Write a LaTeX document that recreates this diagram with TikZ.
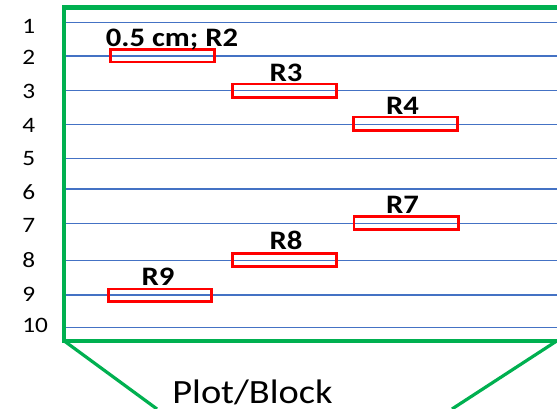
\documentclass[tikz,border=0pt]{standalone}
\usepackage{fontspec}
\setmainfont{Carlito}
\definecolor{fgreen}{RGB}{0,176,80}
\definecolor{lblue}{RGB}{68,114,196}
\definecolor{rred}{RGB}{255,0,0}
\tikzset{
  frame/.style={draw=fgreen, line width=3.4pt, line join=miter},
  slant/.style={draw=fgreen, line width=2.4pt},
  rowline/.style={draw=lblue, line width=1.1pt},
  redbox/.style={draw=rred, line width=2pt},
  numlab/.style={anchor=west, inner sep=0pt, font=\fontsize{16.5}{18}\selectfont},
  boxlab/.style={anchor=base, inner sep=0pt, font=\fontsize{20}{22}\selectfont\bfseries},
  titlelab/.style={anchor=base, inner sep=0pt, font=\fontsize{25.5}{28}\selectfont},
}
\newcommand{\wide}[1]{\scalebox{1.15}[1]{#1}}
\begin{document}
\begin{tikzpicture}[x=0.75pt, y=-0.75pt]
\useasboundingbox (0,0) rectangle (557,409);
% row lines
\foreach \yy [count=\i] in {22.3,56,90.7,124.3,158.7,189,223.3,260.7,295,327.3}{
  \draw[rowline] (66,\yy) -- (557,\yy);
}
% row numbers
\foreach \yy/\t in {26/1,57.8/2,91/3,125/4,159/5,192/6,225.7/7,260.5/8,294.5/9,325.7/10}{
  \node[numlab] (n\t) at (22,\yy) {\wide{\t}};
}
% frame
\draw[frame] (560,7.5) -- (64,7.5) -- (64,340.8) -- (560,340.8);
\coordinate (bl) at (64,340.8);
\coordinate (br) at (557,340.8);
\coordinate (tl) at (157,409);
\coordinate (tr) at (452,409);
\draw[slant] (bl) -- (tl);
\draw[slant] (br) -- (tr);
% red boxes
\draw[redbox] (110.5,49.7) rectangle (214.7,62);
\draw[redbox] (232.3,84) rectangle (336.3,97.7);
\draw[redbox] (353.3,117) rectangle (457.7,130.3);
\draw[redbox] (354,216.3) rectangle (458.3,229.3);
\draw[redbox] (232.3,253.3) rectangle (336.3,266.3);
\draw[redbox] (108.3,289) rectangle (211.7,301.3);
% labels
\node[boxlab] (l2) at (172,46.7) {\wide{0.5 cm; R2}};
\node[boxlab] (l3) at (286,81.7) {\wide{R3}};
\node[boxlab] (l4) at (402.5,115) {\wide{R4}};
\node[boxlab] (l7) at (402.5,213.5) {\wide{R7}};
\node[boxlab] (l8) at (286,250) {\wide{R8}};
\node[boxlab] (l9) at (158,286) {\wide{R9}};
\node[titlelab] (title) at (252.5,403.3) {\scalebox{1.13}[1]{Plot/Block}};
\end{tikzpicture}
\end{document}
